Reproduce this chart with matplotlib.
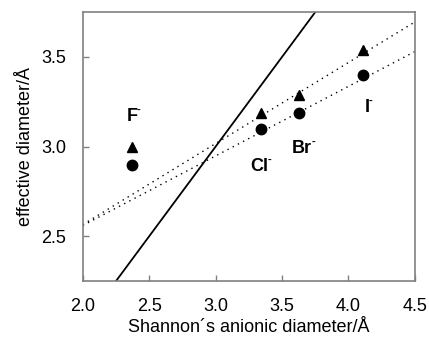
import matplotlib
matplotlib.use("Agg")
import matplotlib.pyplot as plt
import numpy as np

plt.rcParams['font.family'] = ['Liberation Sans', 'DejaVu Sans']

# data
shannon_x = [2.37, 3.34, 3.63, 4.11]
eff_triangle = [3.00, 3.19, 3.29, 3.54]
eff_circle = [2.90, 3.10, 3.19, 3.40]
ion_names = ["F", "Cl", "Br", "I"]
label_x = [2.37, 3.33, 3.65, 4.14]
label_y = [3.17, 2.89, 2.99, 3.22]
# fit lines: (intercept at x=2, slope)
fit_upper = (2.565, 0.452)
fit_lower = (2.560, 0.388)
identity = [2.25, 3.75]
xticks = [2.0, 2.5, 3.0, 3.5, 4.0, 4.5]
yticks = [2.5, 3.0, 3.5]

fig = plt.figure(figsize=(4.29, 3.37), dpi=100)
ax = fig.add_axes([0.193, 0.166, 0.774, 0.798])

ax.plot(identity, identity, color='black', lw=1.3)
xf = np.array([2.0, 4.5])
for b, m in (fit_upper, fit_lower):
    ax.plot(xf, b + m * (xf - 2.0), color='black', lw=1.0, linestyle=(0, (1, 3.2)))

ax.plot(shannon_x, eff_triangle, linestyle='none', marker='^', color='black', markersize=7)
ax.plot(shannon_x, eff_circle, linestyle='none', marker='o', color='black', markersize=7.5)

ax.set_xlim(2.0, 4.5)
ax.set_ylim(2.25, 3.75)

fig.canvas.draw()
inv = ax.transData.inverted()
for name, x, y in zip(ion_names, label_x, label_y):
    t = ax.text(x, y, name, ha='center', va='center', fontsize=13, fontweight='bold')
    fig.canvas.draw()
    bb = t.get_window_extent()
    hx, hy = inv.transform((bb.x1 - 0.5, bb.y1 - 2))
    ax.text(hx, hy, "-", ha='left', va='center', fontsize=8, fontweight='bold')

ax.set_xticks(xticks)
ax.set_yticks(yticks)
ax.set_xticklabels([f"{v:.1f}" for v in xticks])
ax.set_yticklabels([f"{v:.1f}" for v in yticks])
ax.tick_params(direction='in', length=4, width=1, color='#808080', labelsize=13, pad=12)
for s in ax.spines.values():
    s.set_color('#808080')
    s.set_linewidth(1.2)

ax.set_xlabel("Shannon\u00b4s anionic diameter/\u00c5", fontsize=13, labelpad=3)
ax.set_ylabel("effective diameter/\u00c5", fontsize=13, labelpad=5)

fig.savefig("out.png", dpi=100)
